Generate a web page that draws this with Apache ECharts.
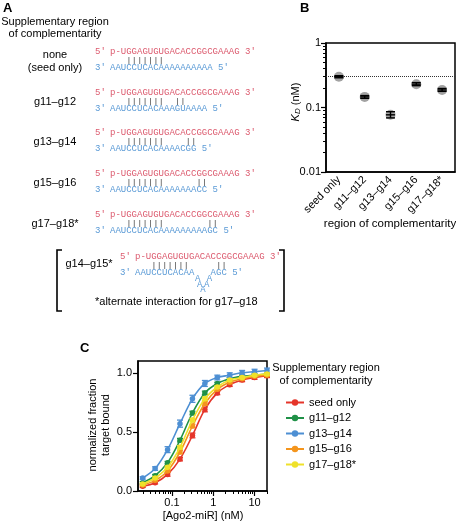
<!DOCTYPE html>
<html><head><meta charset="utf-8">
<script src="https://cdn.jsdelivr.net/npm/echarts@6/dist/echarts.min.js"></script>
<style>html,body{margin:0;padding:0;background:#fff}#c{width:456px;height:523px}</style>
</head><body><div id="c"></div>
<script>
// ---------- Panel A data ----------
const panelATitle = ['Supplementary region', 'of complementarity'];
const rowLabels = [['none', '(seed only)'], ['g11–g12'], ['g13–g14'], ['g15–g16'], ['g17–g18*']];
const mirnaSeq = 'p-UGGAGUGUGACACCGGCGAAAG';
const targetSeqs = ['AAUCCUCACAAAAAAAAAA', 'AAUCCUCACAAAGUAAAA', 'AAUCCUCACAAAACGG', 'AAUCCUCACAAAAAAACC', 'AAUCCUCACAAAAAAAAAGC'];
const seedPairs = [3, 4, 5, 6, 7, 8, 9];
const extraPairs = [[], [12, 13], [14, 15], [16, 17], [18, 19]];
const altLabel = 'g14–g15*';
const altTargetLeft = 'AAUCCUCACAA';
const altLoop = 'AAAAA';
const altTargetRight = 'AGC';
const altExtraPairs = [15, 16];
const altNote = '*alternate interaction for g17–g18';

// ---------- Panel B data ----------
const kdCategories = ['seed only', 'g11–g12', 'g13–g14', 'g15–g16', 'g17–g18*'];
const kdValues = [0.30, 0.146, 0.077, 0.23, 0.187];
const kdLow = [0.289, 0.139, 0.069, 0.218, 0.178];
const kdHigh = [0.311, 0.153, 0.086, 0.243, 0.197];
const kdReference = 0.3;
const kdMajorTicks = [0.01, 0.1, 1];
const kdMinorTicks = [0.02, 0.03, 0.04, 0.05, 0.06, 0.07, 0.08, 0.09, 0.2, 0.3, 0.4, 0.5, 0.6, 0.7, 0.8, 0.9];

// ---------- Panel C data ----------
const concentrations = [0.0195, 0.039, 0.078, 0.156, 0.3125, 0.625, 1.25, 2.5, 5, 10, 20];
const seriesNames = ['seed only', 'g11–g12', 'g13–g14', 'g15–g16', 'g17–g18*'];
const seedOnly = [0.04, 0.07, 0.14, 0.27, 0.47, 0.69, 0.83, 0.90, 0.94, 0.96, 0.975];
const g11g12 = [0.07, 0.13, 0.24, 0.43, 0.66, 0.83, 0.91, 0.95, 0.97, 0.98, 0.99];
const g13g14 = [0.11, 0.19, 0.35, 0.57, 0.78, 0.91, 0.96, 0.98, 1.00, 1.01, 1.02];
const g15g16 = [0.05, 0.09, 0.17, 0.33, 0.55, 0.74, 0.86, 0.92, 0.95, 0.97, 0.98];
const g17g18 = [0.06, 0.11, 0.20, 0.37, 0.60, 0.78, 0.88, 0.94, 0.96, 0.98, 0.99];
const seedOnlyErr = [0.01, 0.01, 0.015, 0.015, 0.02, 0.02, 0.015, 0.015, 0.015, 0.015, 0.015];
const g11g12Err = [0.01, 0.01, 0.01, 0.015, 0.015, 0.015, 0.01, 0.01, 0.01, 0.01, 0.01];
const g13g14Err = [0.01, 0.015, 0.025, 0.03, 0.03, 0.025, 0.02, 0.02, 0.02, 0.02, 0.02];
const g15g16Err = [0.01, 0.01, 0.01, 0.015, 0.015, 0.015, 0.01, 0.01, 0.01, 0.01, 0.01];
const g17g18Err = [0.01, 0.01, 0.01, 0.015, 0.015, 0.015, 0.01, 0.01, 0.01, 0.01, 0.01];
const cXMajor = [0.1, 1, 10];
const cXMajorLabels = ['0.1', '1', '10'];
const cXMinor = [0.02, 0.03, 0.04, 0.05, 0.06, 0.07, 0.08, 0.09, 0.2, 0.3, 0.4, 0.5, 0.6, 0.7, 0.8, 0.9, 2, 3, 4, 5, 6, 7, 8, 9, 20];
const cYTicks = [0, 0.5, 1.0];
const legendTitle = ['Supplementary region', 'of complementarity'];

// ---------- styling ----------
const SANS = 'Liberation Sans, Arial, Helvetica, sans-serif';
const MONO = 'Liberation Mono, Courier New, monospace';
const PINK = '#dc5a6e';
const BLUE = '#5a9ad6';
const PAIR = '#555';
const colors = ['#e5352a', '#1f9147', '#4d8fd3', '#f4951d', '#efe12a'];
const cSeries = [seedOnly, g11g12, g13g14, g15g16, g17g18];
const cErrs = [seedOnlyErr, g11g12Err, g13g14Err, g15g16Err, g17g18Err];

const g = [];
function mkTxt(x, y, s, o) {
  o = o || {};
  const el = {
    type: 'text', x: x, y: y, rotation: o.rot || 0, z: 10,
    style: {
      text: s, fill: o.fill || '#000', fontSize: o.size || 11, fontFamily: o.font || SANS,
      fontWeight: o.weight || 'normal', fontStyle: o.style || 'normal',
      textAlign: o.align || 'left', textVerticalAlign: o.valign || 'middle', verticalAlign: o.valign || 'middle'
    }
  };
  if (o.rich) el.style.rich = o.rich;
  if (o.lineHeight) el.style.lineHeight = o.lineHeight;
  return el;
}
function txt(x, y, s, o) { g.push(mkTxt(x, y, s, o)); }
function line(x1, y1, x2, y2, c, w) {
  g.push({ type: 'line', z: 10, shape: { x1, y1, x2, y2 }, style: { stroke: c || '#000', lineWidth: w || 1 } });
}

// Panel labels
txt(3, 8, 'A', { size: 13, weight: 'bold' });
txt(300, 8, 'B', { size: 13, weight: 'bold' });
txt(80, 348, 'C', { size: 13, weight: 'bold' });

// Panel A
txt(55, 22, panelATitle[0], { align: 'center' });
txt(55, 34, panelATitle[1], { align: 'center' });
const CW = 5.4;
const seqX = 110, primeX = 95;
const pinkY = [52, 93, 133, 174, 215];
for (let r = 0; r < 5; r++) {
  const py = pinkY[r], by = py + 16;
  if (rowLabels[r].length === 2) {
    txt(55, py + 3, rowLabels[r][0], { align: 'center' });
    txt(55, by, rowLabels[r][1], { align: 'center' });
  } else {
    txt(55, (py + by) / 2 + 1, rowLabels[r][0], { align: 'center' });
  }
  txt(primeX, py, '5′', { font: MONO, size: 9, fill: PINK });
  txt(seqX, py, mirnaSeq + ' 3′', { font: MONO, size: 9, fill: PINK });
  txt(primeX, by, '3′', { font: MONO, size: 9, fill: BLUE });
  txt(seqX, by, targetSeqs[r] + ' 5′', { font: MONO, size: 9, fill: BLUE });
  seedPairs.concat(extraPairs[r]).forEach(i => {
    const x = seqX + (i + 0.5) * CW;
    line(x, py + 5, x, by - 4, PAIR, 0.8);
  });
}
// bracket alternative
const aPy = 257, aBy = 273, aX = 135;
g.push({ type: 'polyline', z: 10, shape: { points: [[62, 250], [57, 250], [57, 311], [62, 311]] }, style: { stroke: '#000', lineWidth: 1.6, fill: null } });
g.push({ type: 'polyline', z: 10, shape: { points: [[279, 250], [284, 250], [284, 311], [279, 311]] }, style: { stroke: '#000', lineWidth: 1.6, fill: null } });
txt(89, 264, altLabel, { align: 'center' });
txt(120, aPy, '5′', { font: MONO, size: 9, fill: PINK });
txt(aX, aPy, mirnaSeq + ' 3′', { font: MONO, size: 9, fill: PINK });
txt(120, aBy, '3′', { font: MONO, size: 9, fill: BLUE });
txt(aX, aBy, altTargetLeft, { font: MONO, size: 9, fill: BLUE });
txt(aX + 14 * CW, aBy, altTargetRight + ' 5′', { font: MONO, size: 9, fill: BLUE });
const loopPos = [[11.1, 6], [11.5, 12], [12.1, 17], [12.8, 12], [13.3, 6]];
altLoop.split('').forEach((ch, k) => {
  txt(aX + loopPos[k][0] * CW, aBy + loopPos[k][1], ch, { font: MONO, size: 9, fill: BLUE });
});
seedPairs.concat(altExtraPairs).forEach(i => {
  const x = aX + (i + 0.5) * CW;
  line(x, aPy + 5, x, aBy - 4, PAIR, 0.8);
});
txt(95, 302, altNote, {});

// Panel B titles
txt(296, 102, '{k|K}{d|D}{n| (nM)}', {
  rot: Math.PI / 2, align: 'center',
  rich: {
    k: { fontSize: 11, fontStyle: 'italic', fontFamily: SANS },
    d: { fontSize: 8, fontStyle: 'italic', fontFamily: SANS, padding: [4, 0, 0, 0] },
    n: { fontSize: 11, fontFamily: SANS }
  }
});
txt(390, 224, 'region of complementarity', { align: 'center', size: 11.5 });

// Panel C titles
txt(99, 425, 'normalized fraction\ntarget bound', { rot: Math.PI / 2, align: 'center', lineHeight: 13 });
txt(203, 516, '[Ago2-miR] (nM)', { align: 'center' });
txt(326, 368, legendTitle[0], { align: 'center' });
txt(326, 381, legendTitle[1], { align: 'center' });

// tick-only overlay axes work in shifted log10 space
const SH = 10;
const LS = v => Math.log10(v) + SH;
const cxMin = 0.015, cxMax = 20;

const axisLineStyle = { show: true, onZero: false, lineStyle: { color: '#000', width: 1.5 } };
const noLine = { show: false, onZero: false };
const isMajor = (v, list) => list.some(m => Math.abs(v - m) / m < 1e-6);

const series = [];
// Panel B
series.push({
  type: 'custom', xAxisIndex: 0, yAxisIndex: 0, z: 5,
  data: kdCategories.map((c, i) => [i, kdLow[i], kdHigh[i], kdValues[i]]),
  encode: { x: 0, y: [1, 2] },
  renderItem: function (params, api) {
    const i = api.value(0);
    const lo = api.coord([i, api.value(1)]), hi = api.coord([i, api.value(2)]), md = api.coord([i, api.value(3)]);
    const w = 4.5;
    const st = { stroke: '#000', lineWidth: 1.4 };
    return {
      type: 'group', children: [
        { type: 'line', shape: { x1: lo[0], y1: lo[1], x2: hi[0], y2: hi[1] }, style: st },
        { type: 'line', shape: { x1: lo[0] - w, y1: lo[1], x2: lo[0] + w, y2: lo[1] }, style: st },
        { type: 'line', shape: { x1: hi[0] - w, y1: hi[1], x2: hi[0] + w, y2: hi[1] }, style: st },
        { type: 'line', shape: { x1: md[0] - w, y1: md[1], x2: md[0] + w, y2: md[1] }, style: st }
      ]
    };
  }
});
series.push({
  type: 'scatter', xAxisIndex: 0, yAxisIndex: 0, z: 4,
  data: kdValues, symbol: 'circle', symbolSize: 10,
  itemStyle: { color: 'rgba(90,90,90,0.7)' },
  markLine: {
    silent: true, symbol: 'none', label: { show: false },
    lineStyle: { type: 'dotted', color: '#333', width: 1 },
    data: [{ yAxis: kdReference }]
  }
});
// Panel C
seriesNames.forEach((name, s) => {
  series.push({
    name: name, type: 'line', xAxisIndex: 1, yAxisIndex: 2, smooth: 0.35,
    data: concentrations.map((c, i) => [c, cSeries[s][i]]),
    symbol: 'circle', symbolSize: 5.5, showSymbol: true,
    lineStyle: { color: colors[s], width: 1.6 },
    itemStyle: { color: colors[s] }, z: 3 + s
  });
  series.push({
    name: name + ' err', type: 'custom', xAxisIndex: 1, yAxisIndex: 2, z: 3 + s,
    data: concentrations.map((c, i) => [c, cSeries[s][i] - cErrs[s][i], cSeries[s][i] + cErrs[s][i]]),
    encode: { x: 0, y: [1, 2] },
    renderItem: function (params, api) {
      const lo = api.coord([api.value(0), api.value(1)]), hi = api.coord([api.value(0), api.value(2)]);
      const w = 3;
      const st = { stroke: colors[s], lineWidth: 1.3 };
      return {
        type: 'group', children: [
          { type: 'line', shape: { x1: lo[0], y1: lo[1], x2: hi[0], y2: hi[1] }, style: st },
          { type: 'line', shape: { x1: lo[0] - w, y1: lo[1], x2: lo[0] + w, y2: lo[1] }, style: st },
          { type: 'line', shape: { x1: hi[0] - w, y1: hi[1], x2: hi[0] + w, y2: hi[1] }, style: st }
        ]
      };
    }
  });
});

const option = {
  animation: false,
  backgroundColor: '#fff',
  textStyle: { fontFamily: SANS },
  grid: [
    { left: 326, top: 43, width: 129, height: 129, show: true, borderColor: '#000', borderWidth: 1.5, containLabel: false, outerBoundsMode: 'none' },
    { left: 138, top: 361, width: 129, height: 130, show: true, borderColor: '#000', borderWidth: 1.5, containLabel: false, outerBoundsMode: 'none' }
  ],
  legend: {
    data: seriesNames, orient: 'vertical', left: 280, top: 392, itemGap: 4.5,
    itemWidth: 18, itemHeight: 8, textStyle: { fontSize: 11, color: '#000', fontFamily: SANS },
    selectedMode: false
  },
  xAxis: [
    {
      gridIndex: 0, type: 'category', position: 'bottom', data: kdCategories, boundaryGap: true,
      axisLine: axisLineStyle, axisTick: { alignWithLabel: true, length: 4, lineStyle: { color: '#000', width: 1.2 } },
      axisLabel: { rotate: 45, interval: 0, fontSize: 11, color: '#000', margin: 6, fontFamily: SANS },
      splitLine: { show: false }
    },
    {
      gridIndex: 1, type: 'log', position: 'bottom', min: cxMin, max: cxMax, logBase: 10,
      axisLine: axisLineStyle, axisTick: { show: false }, axisLabel: { show: false }, splitLine: { show: false }
    },
    {
      gridIndex: 1, type: 'value', position: 'bottom', offset: 0, min: LS(cxMin), max: LS(cxMax),
      axisLine: noLine,
      axisTick: { show: true, customValues: cXMinor.map(LS), length: 3, lineStyle: { color: '#000', width: 1 } },
      axisLabel: { show: false }, splitLine: { show: false }
    },
    {
      gridIndex: 1, type: 'value', position: 'bottom', offset: 0, min: LS(cxMin), max: LS(cxMax),
      axisLine: noLine,
      axisTick: { show: true, customValues: cXMajor.map(LS), length: 5, lineStyle: { color: '#000', width: 1.2 } },
      axisLabel: { show: false }, splitLine: { show: false }
    }
  ],
  yAxis: [
    {
      gridIndex: 0, type: 'log', position: 'left', min: 0.01, max: 1, logBase: 10,
      axisLine: axisLineStyle,
      axisTick: { show: true, length: 5, lineStyle: { color: '#000', width: 1.2 } },
      axisLabel: { fontSize: 11, color: '#000', margin: 5, fontFamily: SANS, formatter: v => isMajor(v, kdMajorTicks) ? String(v) : '' },
      splitLine: { show: false }
    },
    {
      gridIndex: 0, type: 'value', position: 'left', offset: 0, min: LS(0.01), max: LS(1),
      axisLine: noLine,
      axisTick: { show: true, customValues: kdMinorTicks.map(LS), length: 3, lineStyle: { color: '#000', width: 1 } },
      axisLabel: { show: false }, splitLine: { show: false }
    },
    {
      gridIndex: 1, type: 'value', position: 'left', min: 0, max: 1.1,
      axisLine: axisLineStyle,
      axisTick: { show: true, customValues: cYTicks, length: 5, lineStyle: { color: '#000', width: 1.2 } },
      axisLabel: { customValues: cYTicks, formatter: v => v.toFixed(1), fontSize: 11, color: '#000', margin: 6, fontFamily: SANS },
      splitLine: { show: false }
    }
  ],
  series: series,
  graphic: { elements: g }
};

const chart = echarts.init(document.getElementById('c'), null, { renderer: 'canvas' });
chart.setOption(option);

// x tick labels of panel C, positioned through the log axis scale
const yBase = chart.convertToPixel({ yAxisIndex: 2 }, 0);
const extra = cXMajor.map((v, i) => {
  const px = chart.convertToPixel({ xAxisIndex: 1 }, v);
  return mkTxt(px, yBase + 6, cXMajorLabels[i], { align: 'center', valign: 'top' });
});
chart.setOption({ graphic: { elements: g.concat(extra) } });
</script>
</body></html>
